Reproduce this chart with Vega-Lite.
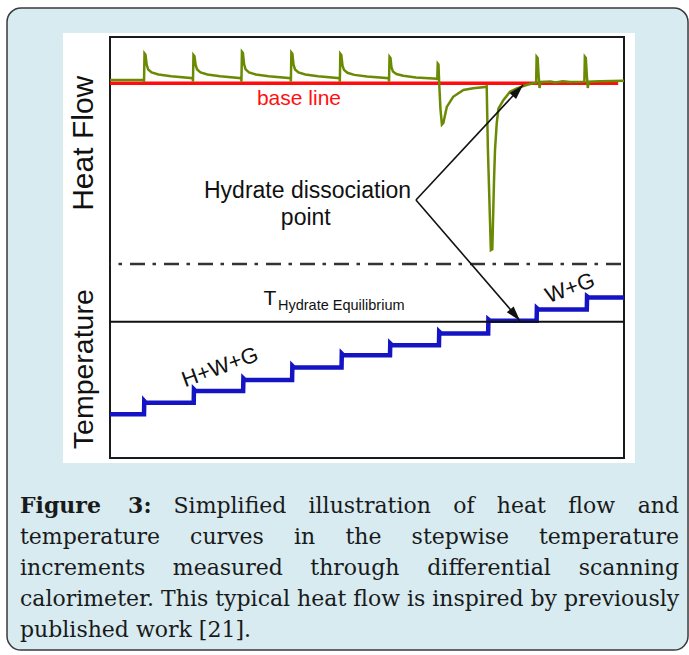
{
  "$schema": "https://vega.github.io/schema/vega-lite/v6.json",
  "autosize": {"type": "none"},
  "padding": {"left": 110, "top": 37, "right": 65, "bottom": 197},
  "width": 514,
  "height": 421,
  "background": "white",
  "config": {"view": {"stroke": null}},
  "datasets": {
    "outer": [{"t": -21.04, "t2": 118.08, "u": 106.89, "u2": -45.61}],
    "panel": [{"t": -9.6, "t2": 107.25, "u": 100.95, "u2": -1.19}],
    "frame": [{"t": 0, "t2": 105, "u": 0, "u2": 100}],
    "dashdot": [{"t": 0, "t2": 105, "u": 46.08}],
    "teq": [{"t": 0, "t2": 105, "u": 32.38}],
    "base": [{"t": 0, "t2": 103.8, "u": 89.0}],
    "temp": [
      {"t": 0, "u": 10.4}, {"t": 6.95, "u": 10.4}, {"t": 7.0, "u": 13.5}, {"t": 7.3, "u": 13.1},
      {"t": 17.1, "u": 13.1}, {"t": 17.15, "u": 16.3}, {"t": 17.5, "u": 15.9},
      {"t": 27.2, "u": 15.9}, {"t": 27.25, "u": 18.9}, {"t": 27.6, "u": 18.5},
      {"t": 37.2, "u": 18.5}, {"t": 37.25, "u": 21.9}, {"t": 37.6, "u": 21.5},
      {"t": 47.3, "u": 21.5}, {"t": 47.35, "u": 24.8}, {"t": 47.7, "u": 24.4},
      {"t": 57.2, "u": 24.4}, {"t": 57.25, "u": 27.2}, {"t": 57.6, "u": 26.8},
      {"t": 67.2, "u": 26.8}, {"t": 67.25, "u": 30.0}, {"t": 67.6, "u": 29.6},
      {"t": 77.25, "u": 29.6}, {"t": 77.3, "u": 32.9}, {"t": 77.6, "u": 32.6},
      {"t": 87.15, "u": 32.6}, {"t": 87.2, "u": 35.6}, {"t": 87.5, "u": 35.3},
      {"t": 97.4, "u": 35.3}, {"t": 97.45, "u": 38.4}, {"t": 97.8, "u": 38.1},
      {"t": 105, "u": 38.1}
    ],
    "heat": [
      {"t": 0, "u": 89.8}, {"t": 6.9, "u": 89.8}, {"t": 6.95, "u": 89.3}, {"t": 7.05, "u": 96.1}, {"t": 7.25, "u": 95.8}, {"t": 7.5, "u": 93.4}, {"t": 7.8, "u": 92.3}, {"t": 8.5, "u": 91.6}, {"t": 9.9, "u": 91.1}, {"t": 12.5, "u": 90.7}, {"t": 16.9, "u": 90.2},
      {"t": 16.95, "u": 89.4}, {"t": 17.05, "u": 95.7}, {"t": 17.25, "u": 95.4}, {"t": 17.5, "u": 93.3}, {"t": 17.8, "u": 92.3}, {"t": 18.5, "u": 91.6}, {"t": 19.9, "u": 91.1}, {"t": 22.5, "u": 90.7}, {"t": 26.8, "u": 90.2},
      {"t": 26.85, "u": 89.4}, {"t": 26.95, "u": 96.5}, {"t": 27.15, "u": 96.2}, {"t": 27.4, "u": 93.5}, {"t": 27.7, "u": 92.3}, {"t": 28.4, "u": 91.6}, {"t": 29.8, "u": 91.1}, {"t": 32.4, "u": 90.7}, {"t": 36.9, "u": 90.2},
      {"t": 36.95, "u": 89.4}, {"t": 37.05, "u": 96.3}, {"t": 37.25, "u": 96.0}, {"t": 37.5, "u": 93.4}, {"t": 37.8, "u": 92.3}, {"t": 38.5, "u": 91.6}, {"t": 39.9, "u": 91.1}, {"t": 42.5, "u": 90.7}, {"t": 46.9, "u": 90.2},
      {"t": 46.95, "u": 89.4}, {"t": 47.05, "u": 96.0}, {"t": 47.25, "u": 95.7}, {"t": 47.5, "u": 93.2}, {"t": 47.8, "u": 92.2}, {"t": 48.5, "u": 91.5}, {"t": 49.9, "u": 91.0}, {"t": 52.5, "u": 90.6}, {"t": 56.95, "u": 90.2},
      {"t": 57.0, "u": 89.4}, {"t": 57.1, "u": 95.3}, {"t": 57.3, "u": 95.0}, {"t": 57.5, "u": 92.8}, {"t": 57.8, "u": 91.8}, {"t": 58.5, "u": 91.2}, {"t": 59.9, "u": 90.8}, {"t": 62.5, "u": 90.4}, {"t": 66.8, "u": 90.1},
      {"t": 66.85, "u": 89.8}, {"t": 66.95, "u": 93.7}, {"t": 67.1, "u": 93.5}, {"t": 67.25, "u": 89.0}, {"t": 67.5, "u": 83.0}, {"t": 67.8, "u": 79.2}, {"t": 68.1, "u": 79.6}, {"t": 68.8, "u": 83.4}, {"t": 70.1, "u": 85.8}, {"t": 72.2, "u": 87.4}, {"t": 74.2, "u": 87.8}, {"t": 76.6, "u": 88.1},
      {"t": 76.95, "u": 88.3}, {"t": 77.2, "u": 73.2}, {"t": 77.8, "u": 49.4}, {"t": 78.1, "u": 49.6}, {"t": 78.45, "u": 66.0}, {"t": 78.65, "u": 73.2}, {"t": 79.0, "u": 79.5}, {"t": 79.35, "u": 83.0}, {"t": 80.35, "u": 85.0}, {"t": 81.7, "u": 87.0}, {"t": 83.1, "u": 87.8}, {"t": 85.1, "u": 88.6}, {"t": 86.4, "u": 89.0},
      {"t": 87.05, "u": 89.1}, {"t": 87.15, "u": 95.3}, {"t": 87.35, "u": 95.0}, {"t": 87.55, "u": 91.0}, {"t": 87.75, "u": 87.9}, {"t": 87.95, "u": 89.3}, {"t": 90.0, "u": 89.4}, {"t": 91.0, "u": 89.2}, {"t": 92.5, "u": 89.5}, {"t": 94.0, "u": 89.3}, {"t": 96.9, "u": 89.4},
      {"t": 97.0, "u": 95.3}, {"t": 97.2, "u": 95.0}, {"t": 97.4, "u": 91.0}, {"t": 97.6, "u": 87.9}, {"t": 97.8, "u": 89.4}, {"t": 100.0, "u": 89.5}, {"t": 105.0, "u": 89.6}
    ],
    "arrows": [
      {"t": 62.5, "u": 61.3, "t2": 84.37, "u2": 88.6},
      {"t": 62.5, "u": 61.3, "t2": 83.76, "u2": 32.61}
    ],
    "head1": [{"t": 84.37, "u": 88.6}],
    "head2": [{"t": 83.76, "u": 32.61}],
    "baseLabel": [{"t": 38.6, "u": 83.85, "label": "base line"}],
    "heatLabel": [{"t": -3.41, "u": 74.75, "label": "Heat Flow"}],
    "tempLabel": [{"t": -3.41, "u": 21.09, "label": "Temperature"}],
    "hydLabel": [
      {"t": 40.35, "u": 61.69, "label": "Hydrate dissociation"},
      {"t": 40.0, "u": 55.34, "label": "point"}
    ],
    "tLabel": [{"t": 31.36, "u": 36.34, "label": "T"}],
    "subLabel": [{"t": 34.32, "u": 35.15, "label": "Hydrate Equilibrium"}],
    "phaseLabel": [
      {"t": 22.47, "u": 21.6, "label": "H+W+G"},
      {"t": 93.97, "u": 40.38, "label": "W+G"}
    ],
    "capBold": [
      {"t": -18.39, "u": -13.06, "label": "Figure"},
      {"t": 3.7, "u": -13.06, "label": "3:"}
    ],
    "capCenter": [
      {"t": 24.51, "u": -13.06, "label": "Simplified"},
      {"t": 53.05, "u": -13.06, "label": "illustration"},
      {"t": 72.28, "u": -13.06, "label": "of"},
      {"t": 84.02, "u": -13.06, "label": "heat"},
      {"t": 98.41, "u": -13.06, "label": "flow"},
      {"t": 23.9, "u": -20.43, "label": "curves"},
      {"t": 39.75, "u": -20.43, "label": "in"},
      {"t": 51.77, "u": -20.43, "label": "the"},
      {"t": 71.56, "u": -20.43, "label": "stepwise"},
      {"t": 24.07, "u": -27.79, "label": "measured"},
      {"t": 50.03, "u": -27.79, "label": "through"},
      {"t": 77.43, "u": -27.79, "label": "differential"}
    ],
    "capLeft": [
      {"t": -18.39, "u": -20.43, "label": "temperature"},
      {"t": -18.39, "u": -27.79, "label": "increments"},
      {"t": -18.39, "u": -35.15, "label": "calorimeter. This typical heat flow is inspired by previously"},
      {"t": -18.39, "u": -42.52, "label": "published work [21]."}
    ],
    "capRight": [
      {"t": 116.24, "u": -13.06, "label": "and"},
      {"t": 116.24, "u": -20.43, "label": "temperature"},
      {"t": 116.24, "u": -27.79, "label": "scanning"}
    ]
  },
  "encoding": {
    "x": {"field": "t", "type": "quantitative", "scale": {"domain": [0, 105], "nice": false, "zero": false}, "axis": null},
    "y": {"field": "u", "type": "quantitative", "scale": {"domain": [0, 100], "nice": false, "zero": false}, "axis": null}
  },
  "layer": [
    {
      "data": {"name": "outer"},
      "mark": {"type": "rect", "fill": "#d7ebf1", "stroke": "#3a3a3a", "strokeWidth": 1.5, "cornerRadius": 14},
      "encoding": {"x2": {"field": "t2"}, "y2": {"field": "u2"}}
    },
    {
      "data": {"name": "panel"},
      "mark": {"type": "rect", "fill": "white", "strokeWidth": 0},
      "encoding": {"x2": {"field": "t2"}, "y2": {"field": "u2"}}
    },
    {
      "data": {"name": "frame"},
      "mark": {"type": "rect", "fill": "transparent", "stroke": "#1a1a1a", "strokeWidth": 2},
      "encoding": {"x2": {"field": "t2"}, "y2": {"field": "u2"}}
    },
    {
      "data": {"name": "dashdot"},
      "mark": {"type": "rule", "color": "#333333", "strokeWidth": 2.5, "strokeDash": [15, 7.5, 3.5, 8], "strokeDashOffset": 14},
      "encoding": {"x2": {"field": "t2"}}
    },
    {
      "data": {"name": "temp"},
      "mark": {"type": "line", "color": "#1414c4", "strokeWidth": 4.5, "strokeJoin": "miter"},
      "encoding": {}
    },
    {
      "data": {"name": "teq"},
      "mark": {"type": "rule", "color": "#111111", "strokeWidth": 2},
      "encoding": {"x2": {"field": "t2"}}
    },
    {
      "data": {"name": "base"},
      "mark": {"type": "rule", "color": "#ff0d0d", "strokeWidth": 3.5},
      "encoding": {"x2": {"field": "t2"}}
    },
    {
      "data": {"name": "heat"},
      "mark": {"type": "line", "color": "#6b8a04", "strokeWidth": 2.5},
      "encoding": {}
    },
    {
      "data": {"name": "arrows"},
      "mark": {"type": "rule", "color": "#111111", "strokeWidth": 1.6},
      "encoding": {"x2": {"field": "t2"}, "y2": {"field": "u2"}}
    },
    {
      "data": {"name": "head1"},
      "mark": {"type": "point", "shape": "M0,0 L-0.6,2 L0.6,2 Z", "size": 225, "filled": true, "color": "#111111", "opacity": 1, "angle": 42.9, "strokeWidth": 0}
    },
    {
      "data": {"name": "head2"},
      "mark": {"type": "point", "shape": "M0,0 L-0.6,2 L0.6,2 Z", "size": 225, "filled": true, "color": "#111111", "opacity": 1, "angle": 139.25, "strokeWidth": 0}
    },
    {
      "data": {"name": "baseLabel"},
      "mark": {"type": "text", "font": "Liberation Sans", "fontSize": 21, "color": "#ff1010", "align": "center", "baseline": "alphabetic"},
      "encoding": {"text": {"field": "label"}}
    },
    {
      "data": {"name": "heatLabel"},
      "mark": {"type": "text", "font": "Liberation Sans", "fontSize": 30, "color": "#111111", "align": "center", "baseline": "alphabetic", "angle": 270},
      "encoding": {"text": {"field": "label"}}
    },
    {
      "data": {"name": "tempLabel"},
      "mark": {"type": "text", "font": "Liberation Sans", "fontSize": 28.5, "color": "#111111", "align": "center", "baseline": "alphabetic", "angle": 270},
      "encoding": {"text": {"field": "label"}}
    },
    {
      "data": {"name": "hydLabel"},
      "mark": {"type": "text", "font": "Liberation Sans", "fontSize": 23, "color": "#111111", "align": "center", "baseline": "alphabetic"},
      "encoding": {"text": {"field": "label"}}
    },
    {
      "data": {"name": "tLabel"},
      "mark": {"type": "text", "font": "Liberation Sans", "fontSize": 21, "color": "#111111", "align": "left", "baseline": "alphabetic"},
      "encoding": {"text": {"field": "label"}}
    },
    {
      "data": {"name": "subLabel"},
      "mark": {"type": "text", "font": "Liberation Sans", "fontSize": 14.5, "color": "#111111", "align": "left", "baseline": "alphabetic"},
      "encoding": {"text": {"field": "label"}}
    },
    {
      "data": {"name": "phaseLabel"},
      "mark": {"type": "text", "font": "Liberation Sans", "fontSize": 22, "color": "#111111", "align": "center", "baseline": "middle", "angle": 340},
      "encoding": {"text": {"field": "label"}}
    },
    {
      "data": {"name": "capBold"},
      "mark": {"type": "text", "font": "DejaVu Serif", "fontSize": 22, "fontWeight": "bold", "color": "#1a1a1a", "align": "left", "baseline": "alphabetic"},
      "encoding": {"text": {"field": "label"}}
    },
    {
      "data": {"name": "capCenter"},
      "mark": {"type": "text", "font": "DejaVu Serif", "fontSize": 22, "color": "#1a1a1a", "align": "center", "baseline": "alphabetic"},
      "encoding": {"text": {"field": "label"}}
    },
    {
      "data": {"name": "capLeft"},
      "mark": {"type": "text", "font": "DejaVu Serif", "fontSize": 22, "color": "#1a1a1a", "align": "left", "baseline": "alphabetic"},
      "encoding": {"text": {"field": "label"}}
    },
    {
      "data": {"name": "capRight"},
      "mark": {"type": "text", "font": "DejaVu Serif", "fontSize": 22, "color": "#1a1a1a", "align": "right", "baseline": "alphabetic"},
      "encoding": {"text": {"field": "label"}}
    }
  ]
}
